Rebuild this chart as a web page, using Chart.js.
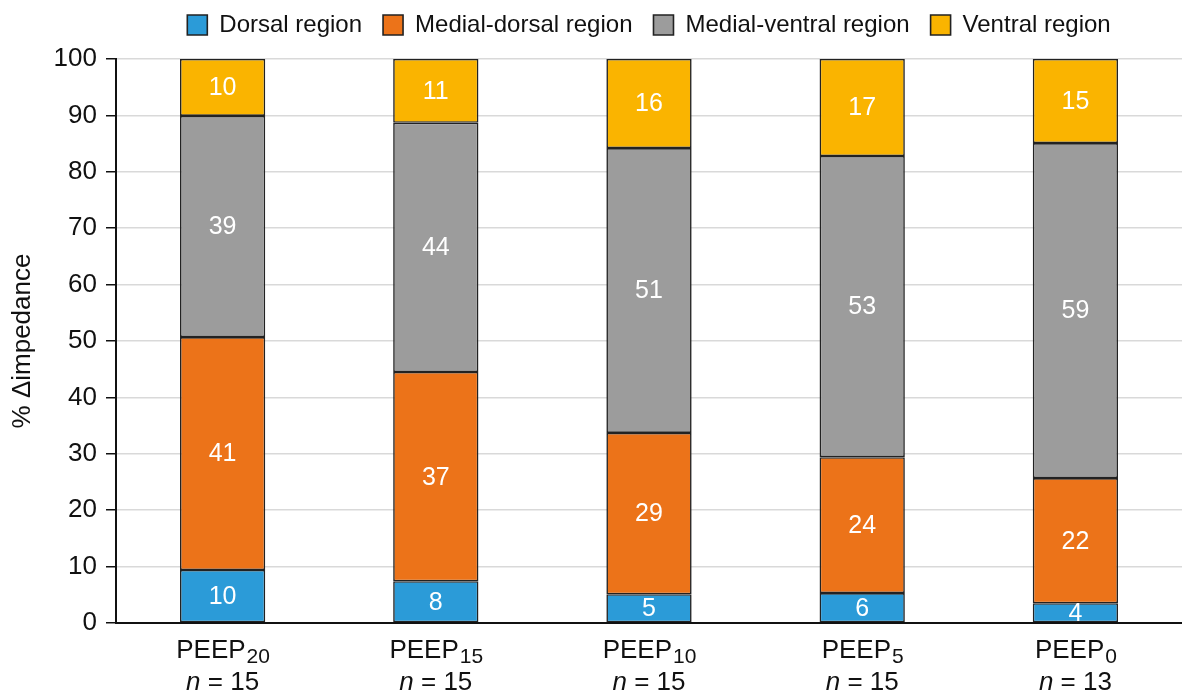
<!DOCTYPE html>
<html>
<head>
<meta charset="utf-8">
<script src="https://cdn.jsdelivr.net/npm/chart.js@4/dist/chart.umd.min.js"></script>
<style>
  body { margin: 0; background: #fff; }
</style>
</head>
<body>
<canvas id="myChart" width="1182" height="697"></canvas>
<script>
const peepLevels = ["20", "15", "10", "5", "0"];
const sampleSizes = [15, 15, 15, 15, 13];

const dorsal = [9.4, 7.4, 5.1, 5.3, 3.5];
const medialDorsal = [41.3, 37.1, 28.6, 24.1, 22.2];
const medialVentral = [39.2, 44.2, 50.5, 53.4, 59.4];
const ventral = [10.1, 11.3, 15.8, 17.2, 14.9];

// printed numbers inside the bars
const dorsalLabels = [10, 8, 5, 6, 4];
const medialDorsalLabels = [41, 37, 29, 24, 22];
const medialVentralLabels = [39, 44, 51, 53, 59];
const ventralLabels = [10, 11, 16, 17, 15];

const yTicks = [0, 10, 20, 30, 40, 50, 60, 70, 80, 90, 100];

const FONT = '"Liberation Sans", Arial, Helvetica, sans-serif';

function makeSet(label, data, values, color) {
  return {
    label: label,
    data: data,
    valueLabels: values,
    backgroundColor: color,
    borderColor: "#222",
    borderWidth: 1.6,
    borderSkipped: false,
    barPercentage: 0.4,
    categoryPercentage: 1.0
  };
}

const barLabels = {
  id: "barLabels",
  afterDatasetsDraw(chart) {
    const ctx = chart.ctx;
    ctx.save();
    ctx.fillStyle = "#fff";
    ctx.font = "25px " + FONT;
    ctx.textAlign = "center";
    ctx.textBaseline = "middle";
    chart.data.datasets.forEach((ds, i) => {
      chart.getDatasetMeta(i).data.forEach((bar, j) => {
        ctx.fillText(String(ds.valueLabels[j]), bar.x, (bar.y + bar.base) / 2 + 1);
      });
    });
    ctx.restore();
  }
};

const xLabels = {
  id: "xLabels",
  afterDraw(chart) {
    const ctx = chart.ctx;
    const x = chart.scales.x;
    const bottom = chart.chartArea.bottom;
    ctx.save();
    ctx.fillStyle = "#111";
    ctx.textBaseline = "alphabetic";
    ctx.textAlign = "left";
    peepLevels.forEach((sub, i) => {
      const cx = x.getPixelForValue(i);
      ctx.font = "26px " + FONT;
      const w1 = ctx.measureText("PEEP").width;
      ctx.font = "21px " + FONT;
      const w2 = ctx.measureText(sub).width;
      let sx = cx - (w1 + w2) / 2;
      ctx.font = "26px " + FONT;
      ctx.fillText("PEEP", sx, bottom + 35);
      ctx.font = "21px " + FONT;
      ctx.fillText(sub, sx + w1 + 1, bottom + 40);

      ctx.font = "italic 26px " + FONT;
      const wn = ctx.measureText("n").width;
      ctx.font = "26px " + FONT;
      const rest = " = " + sampleSizes[i];
      const wr = ctx.measureText(rest).width;
      sx = cx - (wn + wr) / 2;
      ctx.font = "italic 26px " + FONT;
      ctx.fillText("n", sx, bottom + 67);
      ctx.font = "26px " + FONT;
      ctx.fillText(rest, sx + wn, bottom + 67);
    });
    ctx.restore();
  }
};

// center the legend over the plot area and pull it up a little
const legendOverPlot = {
  id: "legendOverPlot",
  afterLayout(chart) {
    const lg = chart.legend;
    lg.left = chart.chartArea.left;
    lg.right = chart.chartArea.right;
    lg.width = lg.right - lg.left;
    lg.top -= 12;
  }
};

const ctx = document.getElementById("myChart").getContext("2d");
new Chart(ctx, {
  type: "bar",
  data: {
    labels: peepLevels.map(p => "PEEP" + p),
    datasets: [
      makeSet("Dorsal region", dorsal, dorsalLabels, "#2b9bd8"),
      makeSet("Medial-dorsal region", medialDorsal, medialDorsalLabels, "#ec7319"),
      makeSet("Medial-ventral region", medialVentral, medialVentralLabels, "#9c9c9c"),
      makeSet("Ventral region", ventral, ventralLabels, "#fab400")
    ]
  },
  options: {
    responsive: false,
    animation: false,
    layout: { padding: { top: 4, right: 0, bottom: 66, left: 0 } },
    plugins: {
      tooltip: { enabled: false },
      legend: {
        position: "top",
        labels: {
          color: "#111",
          font: { family: FONT, size: 24 },
          boxWidth: 20,
          boxHeight: 20,
          padding: 21
        }
      }
    },
    scales: {
      x: {
        stacked: true,
        ticks: { display: false },
        grid: { display: false },
        border: { display: true, color: "#111", width: 2 }
      },
      y: {
        stacked: true,
        min: 0,
        max: 100,
        afterBuildTicks(scale) {
          scale.ticks = yTicks.map(v => ({ value: v }));
        },
        afterFit(scale) {
          scale.width = 116;
        },
        ticks: {
          color: "#111",
          font: { family: FONT, size: 26 },
          padding: 9
        },
        grid: {
          color: "#d9d9d9",
          lineWidth: 1.5,
          tickColor: "#111",
          tickLength: 10
        },
        border: { display: true, color: "#111", width: 2 },
        title: {
          display: true,
          text: "% \u0394impedance",
          color: "#111",
          font: { family: FONT, size: 26 },
          padding: { top: 7, bottom: 0 }
        }
      }
    }
  },
  plugins: [barLabels, xLabels, legendOverPlot]
});
</script>
</body>
</html>
